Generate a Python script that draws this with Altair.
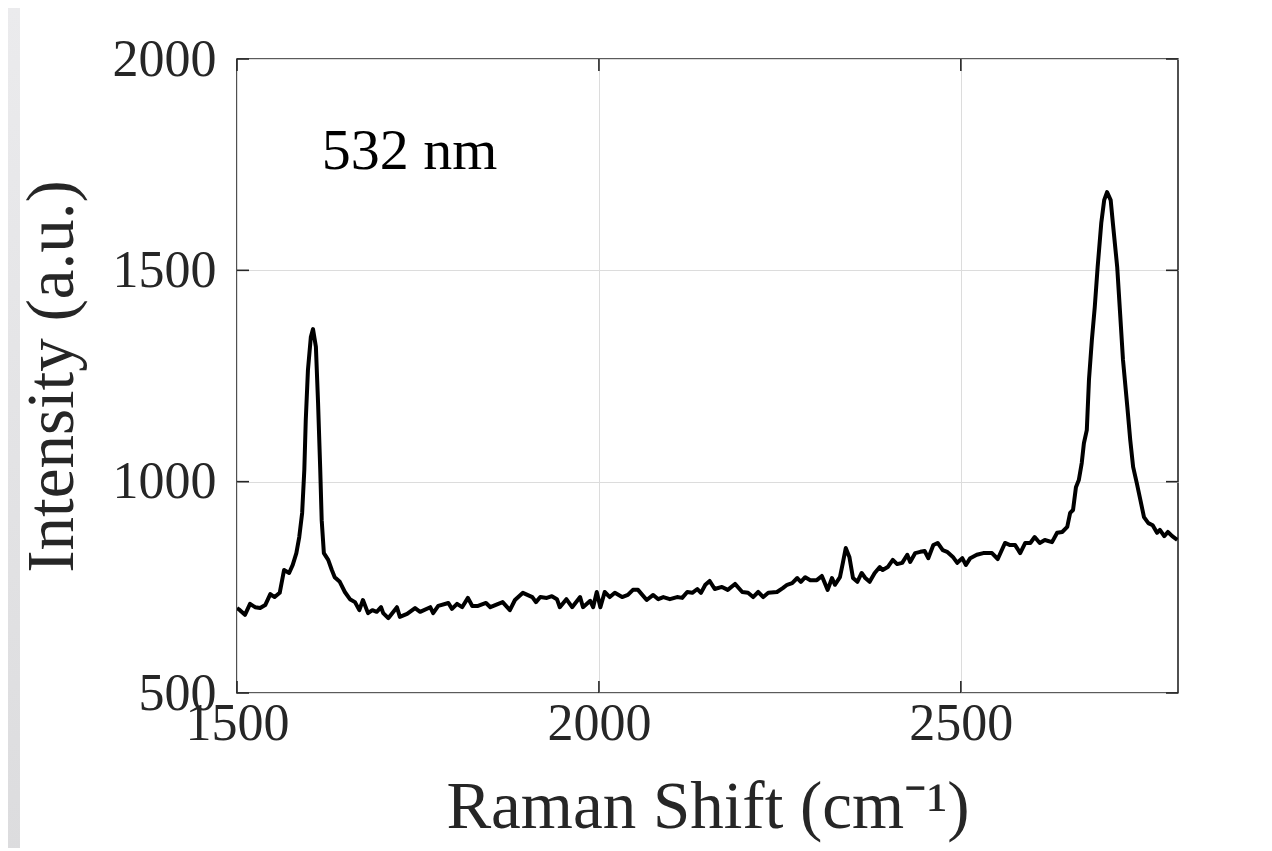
import altair as alt
import pandas as pd

# Raman shift (cm^-1) and intensity (a.u.)
shift = [1500, 1504, 1511, 1518, 1525, 1532, 1539, 1546, 1552, 1559, 1565, 1572, 1577, 1582,
         1586, 1590, 1593, 1595, 1598, 1602, 1605, 1609, 1612, 1615, 1617, 1620, 1626, 1631,
         1635, 1642, 1649, 1656, 1663, 1669, 1674, 1681, 1687, 1693, 1699, 1702,
         1709, 1721, 1725, 1735, 1746, 1753, 1767, 1771, 1778, 1792, 1797, 1804, 1811, 1819,
         1825, 1833, 1844, 1850, 1861, 1867, 1877, 1884, 1895, 1908, 1913, 1919, 1928, 1935,
         1942, 1946, 1955, 1963, 1974, 1978, 1988, 1992, 1997, 2002, 2008, 2015, 2022, 2032,
         2040, 2047, 2054, 2066, 2075, 2082, 2089, 2098, 2108, 2115, 2122, 2129, 2136, 2141,
         2147, 2153, 2160, 2170, 2178, 2188, 2198, 2206, 2213, 2220, 2227, 2234, 2246, 2254,
         2260, 2267, 2274, 2279, 2285, 2292, 2301, 2308, 2316, 2322, 2326, 2333, 2337, 2341,
         2346, 2351, 2357, 2363, 2368, 2374, 2381, 2388, 2392, 2399, 2406, 2412, 2419, 2426,
         2430, 2437, 2444, 2450, 2455, 2462, 2468, 2475, 2481, 2489, 2495, 2502, 2507, 2513,
         2522, 2531, 2543, 2551, 2561, 2568, 2575, 2582, 2589, 2596, 2602, 2609, 2616, 2626,
         2633, 2640, 2647, 2651, 2655, 2659, 2663, 2667, 2670, 2674, 2677, 2681, 2685, 2689,
         2694, 2698, 2702, 2707, 2710, 2716, 2720, 2724, 2730, 2734, 2738, 2743, 2748, 2753,
         2759, 2765, 2771, 2775, 2781, 2786, 2792, 2799]
intensity = [701, 696, 685, 711, 703, 701, 708, 734, 727, 737, 791, 784, 803, 831,
             869, 926, 1028, 1146, 1264, 1342, 1361, 1319, 1186, 1028, 909, 831, 815, 791,
             774, 763, 739, 722, 715, 696, 720, 689, 696, 692, 703, 689,
             677, 703, 680, 687, 701, 692, 703, 689, 706, 713, 699, 711, 703, 725,
             706, 706, 713, 703, 711, 715, 696, 720, 737, 727, 715, 727, 725, 729,
             722, 703, 722, 703, 727, 703, 718, 703, 739, 703, 739, 727, 737, 727,
             732, 744, 744, 720, 732, 722, 727, 722, 727, 725, 739, 737, 746, 737,
             756, 765, 746, 751, 744, 758, 739, 737, 727, 739, 727, 737, 739, 748,
             756, 760, 772, 763, 774, 767, 767, 777, 744, 772, 756, 774, 808, 843,
             822, 772, 763, 784, 772, 763, 784, 798, 791, 798, 815, 805, 808, 827,
             810, 831, 834, 836, 819, 850, 855, 838, 834, 822, 808, 819, 803, 819,
             827, 831, 831, 817, 855, 850, 850, 831, 855, 855, 869, 855, 862, 857,
             879, 881, 893, 926, 933, 987, 1004, 1044, 1091, 1122, 1241, 1335, 1413, 1508,
             1612, 1666, 1685, 1666, 1612, 1508, 1399, 1288, 1177, 1099, 1035, 997, 957, 916,
             902, 897, 879, 886, 871, 881, 871, 862]

x_ticks = [1500, 2000, 2500]
y_ticks = [500, 1000, 1500, 2000]
x_domain = [1500, 2800]
y_domain = [500, 2000]
x_title = "Raman Shift (cm⁻¹)"
y_title = "Intensity (a.u.)"

label_text = "532 nm"
label_x = 1617
label_y = 1780

FONT = "Liberation Serif"
INK = "#262626"
W, H = 941, 634

df = pd.DataFrame({"shift": shift, "intensity": intensity})
xt = pd.DataFrame({"shift": x_ticks})
yt = pd.DataFrame({"intensity": y_ticks})

xs = alt.Scale(domain=x_domain, nice=False, zero=False)
ys = alt.Scale(domain=y_domain, nice=False, zero=False)
x_axis = alt.Axis(values=x_ticks, title=x_title, grid=True, ticks=False, domain=False, format="d",
                  labelFlush=False, labelOverlap=False, labelPadding=5, titlePadding=25)
y_axis = alt.Axis(values=y_ticks, title=y_title, grid=True, ticks=False, domain=False, format="d",
                  labelFlush=False, labelOverlap=False, labelPadding=21, titlePadding=26)

X = alt.X("shift:Q", scale=xs, axis=x_axis, title=x_title)
Y = alt.Y("intensity:Q", scale=ys, axis=y_axis, title=y_title)

line = alt.Chart(df).mark_line(color="black", strokeWidth=4, clip=True,
                               strokeJoin="round").encode(x=X, y=Y)

bottom_ticks = alt.Chart(xt).mark_rule(color=INK, strokeWidth=1.6).encode(
    x=X, y=alt.value(H), y2=alt.value(H - 12))
top_ticks = alt.Chart(xt).mark_rule(color=INK, strokeWidth=1.6).encode(
    x=X, y=alt.value(0), y2=alt.value(12))
left_ticks = alt.Chart(yt).mark_rule(color=INK, strokeWidth=1.6).encode(
    y=Y, x=alt.value(0), x2=alt.value(12))
right_ticks = alt.Chart(yt).mark_rule(color=INK, strokeWidth=1.6).encode(
    y=Y, x=alt.value(W), x2=alt.value(W - 12))

text = alt.Chart(pd.DataFrame({"t": [label_text]})).mark_text(
    font=FONT, fontSize=58, color="black", align="left", baseline="middle"
).encode(x=alt.datum(label_x), y=alt.datum(label_y), text="t:N")

strip = alt.Chart(pd.DataFrame({"s": [0]})).mark_rect(
    color=alt.Gradient(gradient="linear", x1=0, y1=0, x2=0, y2=1,
                       stops=[alt.GradientStop(color="#ebebed", offset=0),
                              alt.GradientStop(color="#dcdcde", offset=1)])
).encode(x=alt.value(-229), x2=alt.value(-217), y=alt.value(-51), y2=alt.value(H + 160))

chart = alt.layer(line, bottom_ticks, top_ticks, left_ticks, right_ticks, text, strip).properties(
    width=W, height=H,
    autosize=alt.AutoSizeParams(type="none"),
    padding={"left": 229, "top": 51, "right": 40, "bottom": 155},
    background="white",
).configure_view(
    stroke=INK, strokeWidth=1.6
).configure_axis(
    labelFont=FONT, labelFontSize=52, labelColor=INK,
    titleFont=FONT, titleFontSize=67, titleColor=INK, titleFontWeight="normal",
    gridColor="#dcdcdc", gridWidth=1, gridOpacity=1,
)

chart.save("out.html", embed_options={"renderer": "svg", "actions": False})
